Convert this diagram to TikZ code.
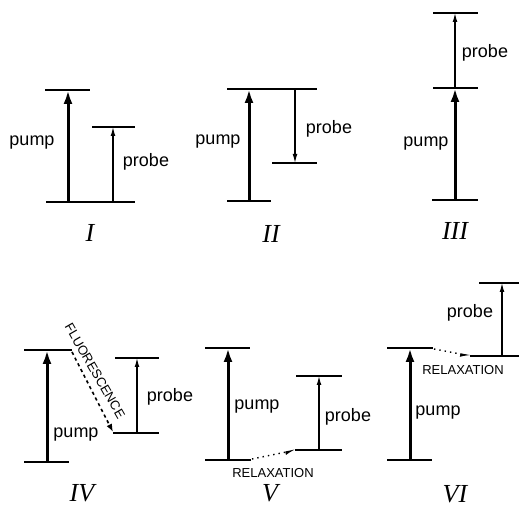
\documentclass[tikz,border=0pt]{standalone}
\usepackage{fontspec}
\setmainfont{Liberation Serif}
\setsansfont{Liberation Sans}
\usetikzlibrary{arrows.meta}

\begin{document}
\begin{tikzpicture}[x=0.5pt,y=-0.5pt,
  every node/.style={font=\sffamily\fontsize{9}{10}\selectfont,inner sep=0pt},
  level/.style={line width=0.9pt},
  pumparrow/.style={-{Latex[length=7pt,width=4.5pt]},line width=1.5pt},
  probearrow/.style={-{Latex[length=4.5pt,width=2.4pt]},line width=0.6pt},
  relax/.style={-{Latex[length=4pt,width=3pt,harpoon,swap]},dotted,line width=0.7pt},
  fluor/.style={-{Latex[length=4pt,width=3pt]},dash pattern=on 1.6pt off 1.6pt,line width=0.8pt},
  small/.style={font=\sffamily\fontsize{6.5}{7}\selectfont},
  numeral/.style={font=\itshape\fontsize{13}{14}\selectfont}
]
  \useasboundingbox (0,0) rectangle (520,506);

  % I
  \coordinate (Ia) at (68,202);  \coordinate (Ib) at (68,90);
  \coordinate (Ic) at (113,202); \coordinate (Id) at (113,127);
  \draw[level] (45,90) -- (90,90);
  \draw[level] (46,202) -- (135,202);
  \draw[level] (92,127) -- (135,127);
  \draw[pumparrow] (Ia) -- (Ib);
  \draw[probearrow] (Ic) -- (Id);
  \node (Ipump) at (32,143) {pump};
  \node (Iprobe) at (146,162) {probe};
  \node[numeral] (Inum) at (90,233) {I};

  % II
  \coordinate (IIa) at (249,201); \coordinate (IIb) at (249,89);
  \coordinate (IIc) at (295,89);  \coordinate (IId) at (295,163);
  \draw[level] (227,89) -- (317,89);
  \draw[level] (227,201) -- (271,201);
  \draw[level] (272,163) -- (317,163);
  \draw[pumparrow] (IIa) -- (IIb);
  \draw[probearrow] (IIc) -- (IId);
  \node (IIpump) at (218,142) {pump};
  \node (IIprobe) at (329,129) {probe};
  \node[numeral] (IInum) at (271,234) {II};

  % III
  \coordinate (IIIa) at (455,200); \coordinate (IIIb) at (455,88);
  \coordinate (IIIc) at (455,13);
  \draw[level] (433,13) -- (478,13);
  \draw[level] (433,88) -- (478,88);
  \draw[level] (432,200) -- (478,200);
  \draw[pumparrow] (IIIa) -- (IIIb);
  \draw[probearrow] (IIIb) -- (IIIc);
  \node (IIIpump) at (426,144) {pump};
  \node (IIIprobe) at (485,53) {probe};
  \node[numeral] (IIInum) at (455,231) {III};

  % IV
  \coordinate (IVa) at (47,462);  \coordinate (IVb) at (47,350);
  \coordinate (IVc) at (137,433); \coordinate (IVd) at (137,358);
  \coordinate (IVf) at (72,352);  \coordinate (IVg) at (113,432);
  \draw[level] (24,350) -- (72,350);
  \draw[level] (24,462) -- (69,462);
  \draw[level] (115,358) -- (159,358);
  \draw[level] (113,433) -- (159,433);
  \draw[pumparrow] (IVa) -- (IVb);
  \draw[probearrow] (IVc) -- (IVd);
  \draw[fluor] (IVf) -- (IVg);
  \node[small,rotate=-60] (IVfluor) at (95,371) {FLUORESCENCE};
  \node (IVpump) at (76,435) {pump};
  \node (IVprobe) at (170,397) {probe};
  \node[numeral] (IVnum) at (82,493) {IV};

  % V
  \coordinate (Va) at (228,460); \coordinate (Vb) at (228,348);
  \coordinate (Vc) at (319,450); \coordinate (Vd) at (319,376);
  \coordinate (Vr) at (252,459); \coordinate (Vs) at (296,450);
  \draw[level] (205,348) -- (250,348);
  \draw[level] (205,460) -- (251,460);
  \draw[level] (296,376) -- (342,376);
  \draw[level] (295,450) -- (342,450);
  \draw[pumparrow] (Va) -- (Vb);
  \draw[probearrow] (Vc) -- (Vd);
  \draw[relax] (Vr) -- (Vs);
  \node (Vpump) at (257,407) {pump};
  \node (Vprobe) at (348,417) {probe};
  \node[small] (Vrelax) at (273,473) {RELAXATION};
  \node[numeral] (Vnum) at (270,493) {V};

  % VI
  \coordinate (VIa) at (410,460); \coordinate (VIb) at (410,348);
  \coordinate (VIc) at (502,356); \coordinate (VId) at (502,283);
  \coordinate (VIr) at (434,349); \coordinate (VIs) at (471,356);
  \draw[level] (479,283) -- (519,283);
  \draw[level] (470,356) -- (519,356);
  \draw[level] (387,348) -- (433,348);
  \draw[level] (387,460) -- (432,460);
  \draw[pumparrow] (VIa) -- (VIb);
  \draw[probearrow] (VIc) -- (VId);
  \draw[relax] (VIr) -- (VIs);
  \node (VIprobe) at (470,313) {probe};
  \node[small] (VIrelax) at (463,370) {RELAXATION};
  \node (VIpump) at (438,413) {pump};
  \node[numeral] (VInum) at (455,494) {VI};
\end{tikzpicture}
\end{document}
